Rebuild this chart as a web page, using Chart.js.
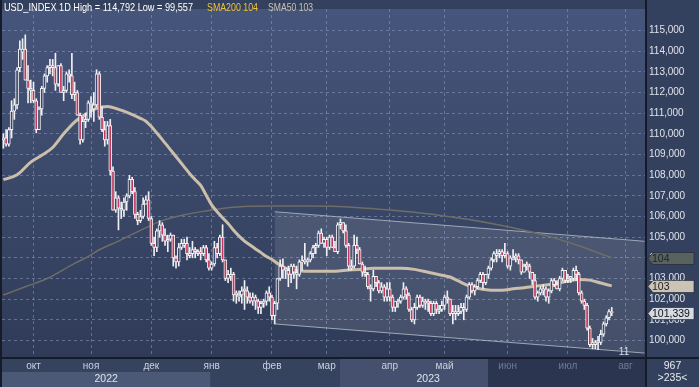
<!DOCTYPE html>
<html><head><meta charset="utf-8">
<script src="https://cdn.jsdelivr.net/npm/chart.js@4/dist/chart.umd.min.js"></script>
<style>html,body{margin:0;padding:0;background:#34415e;overflow:hidden}</style>
</head><body>
<canvas id="c" width="699" height="387"></canvas>
<script>
// ---------- DATA ----------
const startDate = '2022-09-16';
const slotCount = 235;
const opens = [
109.7,109.8,109.5,110.2,111.1,111.4,113.2,113.95,114.1,112.6,112.2,
112.1,111.6,110.2,111.2,112.2,112.8,113.2,113.3,113.2,112.4,113.3,112.0,112.1,112.9,112.8,111.9,112.0,110.9,109.7,110.6,110.7,
111.5,111.2,111.4,112.9,110.8,110.2,109.7,110.4,108.2,106.3,106.9,106.4,106.3,106.7,107.0,107.8,107.2,106.1,105.8,106.0,106.6,106.8,
105.9,104.7,104.5,105.3,105.6,105.1,104.8,104.9,105.1,104.0,103.8,104.5,104.6,104.7,104.1,104.2,104.4,104.3,104.3,104.2,104.5,103.9,
103.5,103.7,104.5,104.2,105.0,103.9,103.0,103.1,103.2,102.3,102.1,102.2,102.5,102.4,102.1,101.9,102.1,101.9,101.6,101.8,101.9,102.3,
102.1,101.2,101.8,103.0,103.6,103.5,103.4,103.2,103.6,103.3,103.2,103.8,103.8,103.8,103.9,104.2,104.5,104.6,105.2,104.7,
104.9,104.5,105.0,104.5,104.3,105.6,105.7,105.3,104.6,103.5,103.6,104.6,104.4,103.7,103.3,103.2,102.6,102.5,103.1,102.8,102.4,102.6,102.1,
102.5,102.1,101.6,101.8,101.9,102.1,102.5,102.2,101.5,101.0,101.6,102.1,101.7,101.9,101.9,101.8,101.3,101.8,101.4,101.5,
101.7,102.1,102.0,101.3,101.4,101.3,101.4,101.6,101.5,102.1,102.7,102.4,102.6,102.9,103.2,102.8,103.2,103.5,103.9,104.1,104.2,104.3,104.1,
104.2,103.6,103.9,104.0,104.1,103.9,103.3,103.7,103.6,103.3,102.9,102.1,102.3,102.4,102.5,102.1,102.4,102.9,102.7,102.5,103.0,103.4,
102.9,103.1,103.0,103.4,103.2,102.3,101.9,101.7,100.6,99.8,99.8,100.0,99.9,100.3,100.8,101.1,101.4];
const highs = [
110.0,110.2,110.3,111.6,111.7,113.2,114.5,114.6,114.79,113.3,112.6,
112.5,111.7,111.3,112.3,112.9,113.3,113.6,113.6,113.9,113.3,113.4,112.3,113.0,113.1,113.9,112.5,112.1,111.0,110.8,111.0,111.6,
111.8,112.0,113.1,113.0,111.3,110.6,110.6,110.7,108.4,107.2,107.0,106.7,106.9,107.1,107.99,107.9,107.4,106.2,106.3,106.9,107.0,107.2,
106.0,105.0,105.4,105.8,105.7,105.4,105.1,105.2,105.1,104.1,104.7,104.9,104.9,105.0,104.5,104.8,104.5,104.4,104.5,104.6,104.6,104.2,
103.8,104.8,104.7,105.1,105.6,103.9,103.4,103.5,103.3,102.4,102.4,102.6,102.9,102.6,102.3,102.3,102.2,102.0,101.9,102.0,102.4,102.6,
102.2,101.9,103.0,103.9,103.95,103.5,103.6,103.7,103.7,103.6,103.9,104.1,104.7,104.0,104.3,104.6,104.7,105.3,105.4,105.0,
105.0,105.1,105.1,104.8,105.7,105.88,105.7,105.6,104.7,103.9,105.1,105.0,104.5,103.8,103.6,103.3,102.7,103.4,103.1,102.9,102.8,102.7,102.8,
102.8,102.2,101.9,102.0,102.2,102.8,102.6,102.3,101.6,101.8,102.2,102.2,102.1,102.0,102.0,101.9,101.9,101.9,101.7,101.9,
102.2,102.4,102.0,101.7,101.7,101.7,101.8,101.8,102.2,102.8,102.8,102.7,103.0,103.3,103.3,103.2,103.6,104.0,104.3,104.4,104.4,104.4,104.7,
104.3,104.1,104.4,104.2,104.2,103.9,103.7,103.8,103.7,103.3,103.2,102.4,102.6,102.7,102.6,102.5,103.0,103.0,102.9,103.1,103.5,103.4,
103.2,103.1,103.5,103.6,103.3,102.4,102.0,101.8,100.7,100.1,100.0,100.2,100.5,100.9,101.2,101.5,101.6];
const lows = [
109.3,109.4,109.4,109.8,110.7,111.2,113.0,113.6,112.6,111.5,111.5,
111.5,110.05,110.2,110.9,112.0,112.5,112.9,112.8,112.1,112.3,112.0,111.6,112.0,112.5,111.7,111.6,110.9,109.5,109.6,110.3,110.6,
110.8,110.6,111.3,110.7,110.1,109.4,109.5,108.0,106.3,106.2,105.35,105.9,106.0,106.3,106.9,107.1,105.9,105.6,105.7,105.9,106.6,105.8,
104.6,104.1,104.3,105.0,104.8,104.6,104.3,104.8,103.6,103.5,103.6,104.4,104.5,103.9,104.0,104.0,104.0,104.1,103.9,104.1,103.8,103.4,
103.4,103.6,104.0,104.1,103.8,102.9,102.8,102.9,101.9,101.8,101.9,101.8,101.5,101.8,101.8,101.7,101.5,101.3,101.3,101.6,101.7,101.9,
101.0,100.8,101.5,102.9,103.0,103.0,102.6,102.8,103.0,102.5,103.1,103.4,103.7,103.6,103.8,104.0,104.2,104.5,104.7,104.5,
104.1,104.4,104.5,104.3,104.2,105.4,105.2,104.5,103.4,103.4,103.5,104.2,103.7,103.1,103.1,102.5,101.9,102.4,102.6,102.3,102.3,101.9,101.9,
101.9,101.4,101.4,101.6,101.8,102.0,102.0,101.4,100.9,100.8,101.5,101.6,101.6,101.5,101.4,101.2,101.2,101.3,101.3,101.4,
101.5,101.8,101.2,100.8,101.0,101.2,101.3,101.0,101.4,102.0,102.3,102.2,102.5,102.8,102.5,102.7,103.0,103.4,103.8,103.8,104.0,103.8,104.0,
103.5,103.4,103.9,103.8,103.7,103.2,103.3,103.4,103.0,102.7,102.0,101.9,102.2,102.2,101.9,101.8,102.3,102.6,102.5,102.4,102.9,102.8,
102.8,102.8,102.9,102.9,102.2,101.8,101.5,100.5,99.7,99.6,99.6,99.557,99.8,100.2,100.7,101.0,101.2];
const closes = [
109.8,109.5,110.2,111.1,111.4,113.1,114.1,114.1,112.6,112.2,112.1,
111.6,110.2,111.2,112.2,112.8,113.2,113.3,113.2,112.4,113.3,112.0,112.1,112.9,112.8,111.9,112.0,110.9,109.7,110.6,110.7,111.5,
111.4,111.4,112.9,110.8,110.2,109.7,110.4,108.2,106.3,106.9,106.4,106.3,106.7,107.0,107.8,107.2,106.1,105.8,106.0,106.6,106.8,105.9,
104.7,104.5,105.3,105.6,105.1,104.8,104.9,105.1,104.0,103.8,104.5,104.7,104.7,104.2,104.2,104.4,104.3,104.2,104.2,104.5,103.9,103.5,
103.7,104.5,104.2,105.0,103.9,103.0,103.2,103.2,102.2,102.2,102.2,102.4,102.4,102.1,101.9,102.1,101.9,101.6,101.8,101.9,102.3,102.1,
101.2,101.8,103.0,103.6,103.4,103.4,103.2,103.6,103.3,103.2,103.8,103.8,103.9,103.9,104.2,104.5,104.6,105.2,104.7,104.9,
104.5,105.0,104.5,104.3,105.6,105.7,105.3,104.6,103.6,103.6,104.6,104.4,103.7,103.3,103.2,102.6,102.5,103.1,102.8,102.4,102.6,102.1,102.5,
102.1,101.6,101.9,101.9,102.1,102.5,102.2,101.5,101.0,101.6,102.1,101.7,101.9,101.8,101.8,101.3,101.8,101.5,101.5,101.7,
102.1,102.0,101.3,101.4,101.3,101.4,101.6,101.5,102.1,102.7,102.4,102.6,102.9,103.2,102.8,103.2,103.5,103.9,104.2,104.2,104.3,104.1,104.2,
103.6,104.0,104.0,104.1,103.9,103.3,103.6,103.6,103.3,102.9,102.1,102.3,102.5,102.5,102.1,102.4,102.9,102.7,102.5,103.0,103.4,102.9,
103.0,103.0,103.4,103.2,102.3,101.9,101.7,100.6,99.8,99.9,99.9,99.9,100.3,100.8,101.1,101.4,101.339];

const sma50Idx = [0,5,10,14,18,22,26,30,34,38,42,46,50,52,54,56,58,60,62,64,66,68,70,72,74,76,78,80,82,84,86,88,90,92,94,96,98,100,102,104,106,110,115,120,125,130,135,140,145,150,155,160,163,166,169,172,175,178,182,186,190,194,198,202,206,210,214,218,222];
const sma50Val = [107.78,108.02,108.63,108.96,109.34,110.0,110.57,110.94,111.23,111.32,111.18,110.99,110.75,110.61,110.35,110.04,109.72,109.39,109.06,108.73,108.40,108.07,107.78,107.50,107.03,106.56,106.23,105.94,105.66,105.33,105.05,104.81,104.62,104.43,104.25,104.06,103.92,103.73,103.58,103.44,103.40,103.35,103.35,103.35,103.40,103.44,103.49,103.49,103.49,103.44,103.30,103.16,103.07,102.88,102.69,102.55,102.48,102.43,102.43,102.50,102.55,102.62,102.69,102.76,102.88,102.95,102.92,102.78,102.64];
const sma200Idx = [0,8,16,26,30,35,42,50,58,66,74,82,90,100,110,120,130,140,150,160,170,180,190,200,210,216,222];
const sma200Val = [102.20,102.60,103.00,103.73,103.99,104.39,104.81,105.33,105.80,106.08,106.27,106.42,106.49,106.51,106.51,106.49,106.42,106.32,106.20,106.04,105.85,105.61,105.33,105.00,104.58,104.29,104.00];
const channelIdx = [99, 234];
const channelUpper = [106.23, 104.80];
const channelLower = [100.80, 99.39];
const monthIdx = [11,32,54,76,98,118,141,161,184,206,227];
const monthLabels = ['окт','ноя','дек','янв','фев','мар','апр','май','июн','июл','авг'];
const yearLabels = ['2022','2023'];
const yearStartIdx = [0, 76];
const yTicks = [100,101,102,103,104,105,106,107,108,109,110,111,112,113,114,115];
const yMin = 99.2, yMax = 116.04;
const lastPrice = 101.339, sma200Last = 104, sma50Last = 103;
const hiVal = '114,792', loVal = '99,557';

// ---------- categories (weekday slots) ----------
const labels = [];
{ let d = new Date(startDate + 'T00:00:00Z');
  while (labels.length < slotCount) {
    const w = d.getUTCDay();
    if (w !== 0 && w !== 6) labels.push(d.toISOString().slice(0,10));
    d.setUTCDate(d.getUTCDate() + 1);
  } }

const FONT = '"Liberation Sans",Arial,sans-serif';
const bodies = opens.map((o,i)=>[o, closes[i]]);
const wicks = opens.map((o,i)=>[Math.min(lows[i],o,closes[i]), Math.max(highs[i],o,closes[i])]);
const upCol = '#3a4766', dnCol = '#c2375c';
const bodyFill = opens.map((o,i)=> closes[i] >= o ? upCol : dnCol);
const pts = (idx, vals) => idx.map((k,j)=>({x: labels[k], y: vals[j]}));

const fmt3 = v => v.toFixed(3).replace('.', ',');

const decor = {
  id: 'decor',
  beforeDraw(chart) {
    const {ctx, chartArea: a, scales: {x}} = chart;
    ctx.save();
    ctx.fillStyle = '#34415e';
    ctx.fillRect(0, 0, chart.width, chart.height);
    const g = ctx.createLinearGradient(0, a.top, 0, a.bottom);
    g.addColorStop(0, '#46557b');
    g.addColorStop(1, '#2f3b57');
    ctx.fillStyle = g;
    ctx.fillRect(a.left, a.top, a.right - a.left, a.bottom - a.top);
    // bottom panel
    const half = (x.getPixelForValue(1) - x.getPixelForValue(0)) / 2;
    const yb = x.getPixelForValue(yearStartIdx[1]) - half;
    ctx.fillStyle = '#36435f';
    ctx.fillRect(a.left, a.bottom, a.right - a.left, chart.height - a.bottom);
    ctx.fillStyle = '#4b5876';
    ctx.fillRect(a.left, a.bottom + 15, yb - a.left, chart.height - a.bottom - 15);
    ctx.fillStyle = '#44506d';
    ctx.fillRect(340, a.bottom, 148, chart.height - a.bottom);
    ctx.fillStyle = '#2b3550';
    ctx.fillRect(488, a.bottom, a.right - 488, chart.height - a.bottom);
    ctx.restore();
  },
  afterDraw(chart) {
    const {ctx, chartArea: a, scales: {x, y}} = chart;
    ctx.save();
    // borders
    ctx.fillStyle = '#151b29';
    ctx.fillRect(0, 0, 2, chart.height);
    ctx.fillRect(a.right - 1, 0, 2, chart.height);
    ctx.fillRect(0, a.bottom, chart.width, 2);
    // title
    ctx.font = '11px ' + FONT;
    ctx.textBaseline = 'middle';
    ctx.textAlign = 'left';
    ctx.fillStyle = '#ffffff';
    ctx.fillText('USD_INDEX 1D High = ' + hiVal + ' Low = ' + loVal, 4, 8, 189);
    ctx.fillStyle = '#efc13f';
    ctx.fillText('SMA200 ' + sma200Last, 207, 8, 51);
    ctx.fillStyle = '#c9c2b5';
    ctx.fillText('SMA50 ' + sma50Last, 268, 8, 45);
    // year labels
    const half = (x.getPixelForValue(1) - x.getPixelForValue(0)) / 2;
    const yb = x.getPixelForValue(yearStartIdx[1]) - half;
    ctx.textAlign = 'center';
    ctx.fillStyle = '#dfe4ec';
    ctx.font = '10.5px ' + FONT;
    ctx.fillText(yearLabels[0], (a.left + yb) / 2, 379);
    ctx.fillText(yearLabels[1], (yb + a.right) / 2, 379);
    // corner
    ctx.fillStyle = '#e6eaf0';
    const cx = (a.right + chart.width) / 2;
    ctx.fillText('967', cx, 366);
    ctx.fillText('>' + slotCount + '<', cx, 378);
    ctx.font = '10px ' + FONT;
    ctx.fillStyle = '#d8dde6';
    ctx.fillText('11', 624, 352);
    // price tags
    const tag = (val, text, fill, tc) => {
      const py = Math.round(y.getPixelForValue(val)) + 0.5;
      const l = a.right + 2, r = chart.width - 5;
      ctx.beginPath();
      ctx.moveTo(l, py);
      ctx.lineTo(l + 5, py - 6);
      ctx.lineTo(r, py - 6);
      ctx.lineTo(r, py + 6);
      ctx.lineTo(l + 5, py + 6);
      ctx.closePath();
      ctx.fillStyle = fill; ctx.fill();
      ctx.strokeStyle = 'rgba(30,35,45,0.6)'; ctx.lineWidth = 1; ctx.stroke();
      ctx.font = '10.5px ' + FONT;
      ctx.textAlign = 'left';
      ctx.fillStyle = tc;
      ctx.fillText(text, l + 4, py + 0.5);
    };
    tag(sma200Val[sma200Val.length - 1], String(sma200Last), '#58625f', '#1d2224');
    tag(sma50Val[sma50Val.length - 1], String(sma50Last), '#cbc3b6', '#222222');
    tag(lastPrice, fmt3(lastPrice), '#d6dae2', '#111111');
    ctx.restore();
  }
};

const gridCol = 'rgba(135,155,195,0.55)';
new Chart(document.getElementById('c'), {
  type: 'bar',
  data: {
    labels,
    datasets: [
      { type: 'bar', data: bodies, backgroundColor: bodyFill, borderColor: '#f2f2f4', borderWidth: 1,
        borderSkipped: false, barThickness: 3, grouped: false, minBarLength: 1, order: 0 },
      { type: 'bar', data: wicks, backgroundColor: '#f0f0f2', borderWidth: 0,
        barThickness: 1, grouped: false, order: 1 },
      { type: 'line', data: pts(sma50Idx, sma50Val), borderColor: '#cbbfab', borderWidth: 3,
        pointRadius: 0, cubicInterpolationMode: 'monotone', fill: false, order: 2 },
      { type: 'line', data: pts(sma200Idx, sma200Val), borderColor: '#6e6d68', borderWidth: 1.5,
        pointRadius: 0, cubicInterpolationMode: 'monotone', fill: false, order: 3 },
      { type: 'line', data: pts(channelIdx, channelUpper), borderColor: 'rgba(190,196,208,0.75)', borderWidth: 1,
        pointRadius: 0, fill: '+1', backgroundColor: 'rgba(255,255,255,0.10)', order: 4 },
      { type: 'line', data: pts(channelIdx, channelLower), borderColor: 'rgba(190,196,208,0.75)', borderWidth: 1,
        pointRadius: 0, fill: false, order: 5 }
    ]
  },
  options: {
    responsive: false,
    animation: false,
    devicePixelRatio: 1,
    layout: { padding: { left: 2, top: 0, right: 0, bottom: 0 } },
    plugins: { legend: { display: false }, tooltip: { enabled: false } },
    scales: {
      x: {
        type: 'category', offset: true,
        afterBuildTicks: s => { s.ticks = monthIdx.map(v => ({ value: v })); },
        afterFit: s => { s.height = 30; },
        ticks: {
          autoSkip: false, maxRotation: 0, padding: 3,
          callback: v => monthLabels[monthIdx.indexOf(v)],
          color: c => (c.tick && c.tick.value >= 184) ? '#6f7a94' : '#c9d0dc',
          font: { family: FONT, size: 10 }
        },
        grid: { offset: false, color: gridCol, lineWidth: 1, drawTicks: false },
        border: { display: false, dash: [3, 3] }
      },
      y: {
        position: 'right', min: yMin, max: yMax,
        afterBuildTicks: s => { s.ticks = yTicks.map(v => ({ value: v })); },
        afterFit: s => { s.width = 53; },
        ticks: { callback: v => fmt3(v), color: '#dfe3ea', padding: 3,
          font: { family: FONT, size: 10 } },
        grid: { color: gridCol, lineWidth: 1, drawTicks: false },
        border: { display: false, dash: [3, 3] }
      }
    }
  },
  plugins: [decor]
});
</script>
</body></html>
